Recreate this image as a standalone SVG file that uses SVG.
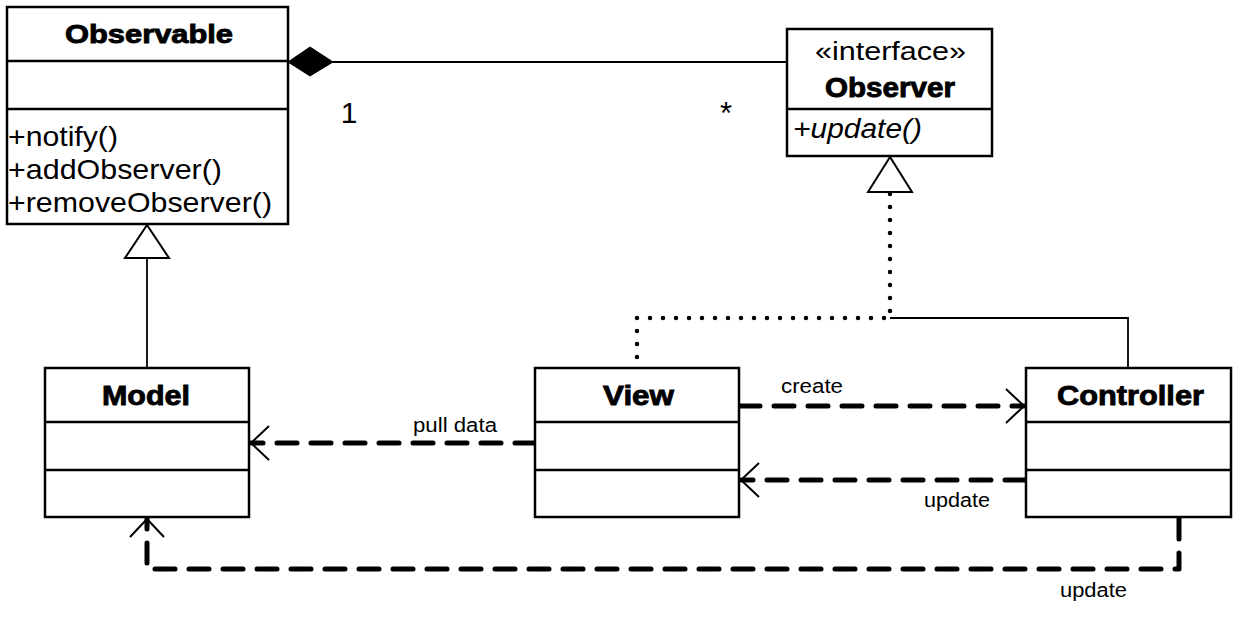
<svg xmlns="http://www.w3.org/2000/svg" width="1239" height="621" viewBox="0 0 1239 621">
<style>
.box{fill:#fff;stroke:#000;stroke-width:2.5}
.div{stroke:#000;stroke-width:2.5}
.t{font-family:"Liberation Sans",Arial,sans-serif;fill:#000}
.title{font-weight:bold;stroke:#000;stroke-width:0.9}
.m{font-size:28px}
.lbl{font-size:20px}
.thin{fill:none;stroke:#000;stroke-width:1.8}
.dash{fill:none;stroke:#000;stroke-width:5;stroke-dasharray:20 14;stroke-linecap:round;stroke-linejoin:round}
.dot{fill:none;stroke:#000;stroke-width:4.5;stroke-dasharray:0 13;stroke-linecap:round}
.tri{fill:#fff;stroke:#000;stroke-width:2}
</style>
<defs>
<marker id="open" markerUnits="userSpaceOnUse" markerWidth="40" markerHeight="40" refX="0" refY="0" orient="auto" overflow="visible">
<path d="M-18,-17 L0,0 L-18,17" fill="none" stroke="#000" stroke-width="2"/>
</marker>
</defs>
<rect width="1239" height="621" fill="#fff"/>

<g id="connectors">
<line class="thin" x1="333" y1="62" x2="787" y2="62"/>
<polygon points="288,62 310,47 333,62 310,76" fill="#000" stroke="#000" stroke-width="1"/>
<line class="thin" x1="147" y1="258" x2="147" y2="368"/>
<polygon class="tri" points="147,225 125,258 169,258"/>
<path class="dot" d="M890,194 L890,318 L637,318 L637,366"/>
<polyline class="thin" points="890,318 1128,318 1128,368"/>
<polygon class="tri" points="890,157 868,192 912,192"/>
<path class="dash" d="M535,443 L251,443" marker-end="url(#open)"/>
<path class="dash" d="M740,406 L1024,406" marker-end="url(#open)"/>
<path class="dash" d="M1025,480 L741,480" marker-end="url(#open)"/>
<path class="dash" d="M1179,519 L1179,569 L147,569 L147,519" marker-end="url(#open)"/>
<text class="t" x="349" y="123" text-anchor="middle" style="font-size:30px">1</text>
<text class="t" x="726" y="124" text-anchor="middle" style="font-size:31px">*</text>
<text class="t lbl" x="413" y="432" textLength="84" lengthAdjust="spacingAndGlyphs">pull data</text>
<text class="t lbl" x="781" y="393" textLength="62" lengthAdjust="spacingAndGlyphs">create</text>
<text class="t lbl" x="924" y="507" textLength="66" lengthAdjust="spacingAndGlyphs">update</text>
<text class="t lbl" x="1060" y="597" textLength="67" lengthAdjust="spacingAndGlyphs">update</text>
</g>

<g id="Observable">
<rect class="box" x="7" y="7" width="281" height="217"/>
<line class="div" x1="7" y1="61" x2="288" y2="61"/>
<line class="div" x1="7" y1="109" x2="288" y2="109"/>
<text class="t title" x="65" y="43" style="font-size:26px" textLength="168" lengthAdjust="spacingAndGlyphs">Observable</text>
<text class="t m" x="8" y="146" textLength="110" lengthAdjust="spacingAndGlyphs">+notify()</text>
<text class="t m" x="8" y="179" textLength="214" lengthAdjust="spacingAndGlyphs">+addObserver()</text>
<text class="t m" x="8" y="212" textLength="264" lengthAdjust="spacingAndGlyphs">+removeObserver()</text>
</g>

<g id="Observer">
<rect class="box" x="787" y="29" width="205" height="127"/>
<line class="div" x1="787" y1="109" x2="992" y2="109"/>
<text class="t" x="815" y="60" style="font-size:25px" textLength="151" lengthAdjust="spacingAndGlyphs">«interface»</text>
<text class="t title" x="825" y="97" style="font-size:28px" textLength="130" lengthAdjust="spacingAndGlyphs">Observer</text>
<text class="t" x="793" y="138" style="font-size:27px;font-style:italic" textLength="129" lengthAdjust="spacingAndGlyphs">+update()</text>
</g>

<g id="Model">
<rect class="box" x="45" y="368" width="204" height="149"/>
<line class="div" x1="45" y1="422" x2="249" y2="422"/>
<line class="div" x1="45" y1="470" x2="249" y2="470"/>
<text class="t title" x="102" y="405" style="font-size:28px" textLength="88" lengthAdjust="spacingAndGlyphs">Model</text>
</g>

<g id="View">
<rect class="box" x="535" y="368" width="204" height="149"/>
<line class="div" x1="535" y1="422" x2="739" y2="422"/>
<line class="div" x1="535" y1="470" x2="739" y2="470"/>
<text class="t title" x="603" y="405" style="font-size:28px" textLength="71" lengthAdjust="spacingAndGlyphs">View</text>
</g>

<g id="Controller">
<rect class="box" x="1026" y="368" width="205" height="149"/>
<line class="div" x1="1026" y1="422" x2="1231" y2="422"/>
<line class="div" x1="1026" y1="470" x2="1231" y2="470"/>
<text class="t title" x="1057" y="405" style="font-size:28px" textLength="147" lengthAdjust="spacingAndGlyphs">Controller</text>
</g>
</svg>
